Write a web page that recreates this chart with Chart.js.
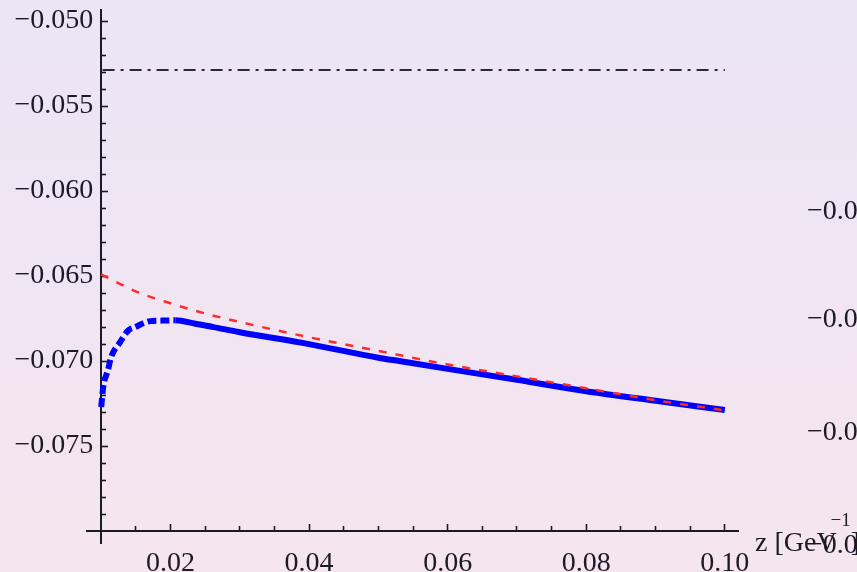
<!DOCTYPE html>
<html><head><meta charset="utf-8">
<script src="https://cdn.jsdelivr.net/npm/chart.js@4"></script>
<style>
html,body{margin:0;padding:0;width:857px;height:572px;overflow:hidden;background:linear-gradient(to bottom,#ece5f5,#f5e5ef);}
#wrap{position:relative;width:857px;height:572px;}
</style></head><body><div id="wrap"><canvas id="c" width="857" height="572"></canvas></div>
<script>
// Data
const xBlue = [0.0100, 0.0103, 0.0110, 0.0114, 0.0127, 0.0139, 0.0149, 0.0171, 0.0188, 0.0207, 0.0236, 0.0262, 0.0300, 0.0400, 0.0500, 0.0530, 0.0600, 0.0700, 0.0800, 0.0900, 0.1000];
const yBlue = [-0.0727, -0.0715, -0.0705, -0.0698, -0.0689, -0.0682, -0.0680, -0.06765, -0.06762, -0.0676, -0.0678, -0.0680, -0.0683, -0.0690, -0.0698, -0.0700, -0.07046, -0.0711, -0.07177, -0.07233, -0.07288];
const xRed = [0.010, 0.015, 0.020, 0.025, 0.030, 0.040, 0.050, 0.060, 0.070, 0.080, 0.090, 0.100];
const yRed = [-0.0649, -0.0659, -0.0666, -0.0672, -0.0677, -0.0686, -0.0694, -0.0702, -0.0709, -0.0716, -0.0723, -0.0729];
const xConst = [0.0102, 0.1000];
const yConst = [-0.05288, -0.05288];

const xMajorTicks = [0.02, 0.04, 0.06, 0.08, 0.10];
const xTickLabels = ['0.02', '0.04', '0.06', '0.08', '0.10'];
const xMinorTicks = [0.015, 0.025, 0.03, 0.035, 0.045, 0.05, 0.055, 0.065, 0.07, 0.075, 0.085, 0.09, 0.095];
const yMajorTicks = [-0.050, -0.055, -0.060, -0.065, -0.070, -0.075];
const yTickLabels = ['\u22120.050', '\u22120.055', '\u22120.060', '\u22120.065', '\u22120.070', '\u22120.075'];
const yMinorTicks = [-0.051, -0.052, -0.053, -0.054, -0.056, -0.057, -0.058, -0.059, -0.061, -0.062, -0.063, -0.064, -0.066, -0.067, -0.068, -0.069, -0.071, -0.072, -0.073, -0.074, -0.076, -0.077, -0.078, -0.079];
const rightPanelLabels = ['\u22120.06', '\u22120.07', '\u22120.08', '\u22120.09'];
const axisTitle = 'z [GeV';

const X_MIN = 0.00795, X_MAX = 0.1019, Y_MIN = -0.0807, Y_MAX = -0.04935;
const X_AXIS_AT = -0.080, Y_AXIS_AT = 0.010;
const FONT = "'Liberation Serif', 'Times New Roman', serif";
const INK = '#1c1a26';

const pts = (xs, ys) => xs.map((x, i) => ({x, y: ys[i]}));

const extraText = {
  id: 'extraText',
  afterDraw(chart) {
    const ctx = chart.ctx;
    ctx.save();
    ctx.fillStyle = INK;
    ctx.font = '28px ' + FONT;
    ctx.textBaseline = 'middle';
    ctx.textAlign = 'left';
    const ys = [212, 320, 433, 546];
    rightPanelLabels.forEach((t, i) => ctx.fillText(t, 807, ys[i]));
    // axis title
    ctx.textBaseline = 'alphabetic';
    ctx.fillText(axisTitle, 755, 551);
    const w = ctx.measureText(axisTitle).width;
    ctx.font = '19px ' + FONT;
    ctx.fillText('\u22121', 755 + w - 6, 526);
    const w2 = ctx.measureText('\u22121').width;
    ctx.font = '28px ' + FONT;
    ctx.fillText(']', 755 + w + w2 - 6, 551);
    ctx.restore();
  }
};

const mkTicks = (arr) => (s) => { s.ticks = arr.map(v => ({value: v})); };

new Chart(document.getElementById('c'), {
  type: 'line',
  data: {
    datasets: [
      {
        data: pts(xConst, yConst),
        borderColor: '#2a2a2a', borderWidth: 2, borderDash: [12, 6, 3, 6],
        pointRadius: 0, xAxisID: 'x', yAxisID: 'y'
      },
      {
        data: pts(xRed, yRed),
        borderColor: '#ff2b2b', borderWidth: 2.5, borderDash: [8, 9],
        pointRadius: 0, cubicInterpolationMode: 'monotone', xAxisID: 'x', yAxisID: 'y'
      },
      {
        data: pts(xBlue, yBlue),
        borderColor: '#0000ff', borderWidth: 6,
        pointRadius: 0, cubicInterpolationMode: 'monotone', xAxisID: 'x', yAxisID: 'y',
        segment: { borderDash: (c) => c.p0.parsed.x < 0.0207 ? [9, 4] : [] }
      }
    ]
  },
  options: {
    responsive: false, animation: false, devicePixelRatio: 1,
    layout: { padding: { left: 87, right: 119, top: 10, bottom: 29 } },
    plugins: { legend: { display: false }, tooltip: { enabled: false } },
    scales: {
      x: {
        type: 'linear', min: X_MIN, max: X_MAX, position: { y: X_AXIS_AT },
        border: { display: true, color: INK, width: 2 },
        grid: { drawOnChartArea: false, drawTicks: true, tickLength: -8, tickColor: INK, tickWidth: 1.6 },
        afterBuildTicks: mkTicks(xMajorTicks),
        ticks: { autoSkip: false, maxRotation: 0, color: INK, font: { family: FONT, size: 28, lineHeight: 0.6 }, padding: 32,
                 callback: (v, i) => xTickLabels[i] }
      },
      xm: {
        type: 'linear', min: X_MIN, max: X_MAX, position: { y: X_AXIS_AT },
        border: { display: false },
        grid: { drawOnChartArea: false, drawTicks: true, tickLength: -5, tickColor: INK, tickWidth: 1.6 },
        afterBuildTicks: mkTicks(xMinorTicks),
        ticks: { display: false, autoSkip: false }
      },
      y: {
        type: 'linear', min: Y_MIN, max: Y_MAX, position: { x: Y_AXIS_AT },
        border: { display: true, color: INK, width: 2 },
        grid: { drawOnChartArea: false, drawTicks: true, tickLength: -8, tickColor: INK, tickWidth: 1.6 },
        afterBuildTicks: mkTicks(yMajorTicks),
        ticks: { autoSkip: false, color: INK, font: { family: FONT, size: 28, lineHeight: 0.6 }, padding: 0,
                 callback: (v, i) => yTickLabels[i] + '\u2009\u200A' }
      },
      ym: {
        type: 'linear', min: Y_MIN, max: Y_MAX, position: { x: Y_AXIS_AT },
        border: { display: false },
        grid: { drawOnChartArea: false, drawTicks: true, tickLength: -5, tickColor: INK, tickWidth: 1.6 },
        afterBuildTicks: mkTicks(yMinorTicks),
        ticks: { display: false, autoSkip: false }
      }
    }
  },
  plugins: [extraText]
});
</script></body></html>
